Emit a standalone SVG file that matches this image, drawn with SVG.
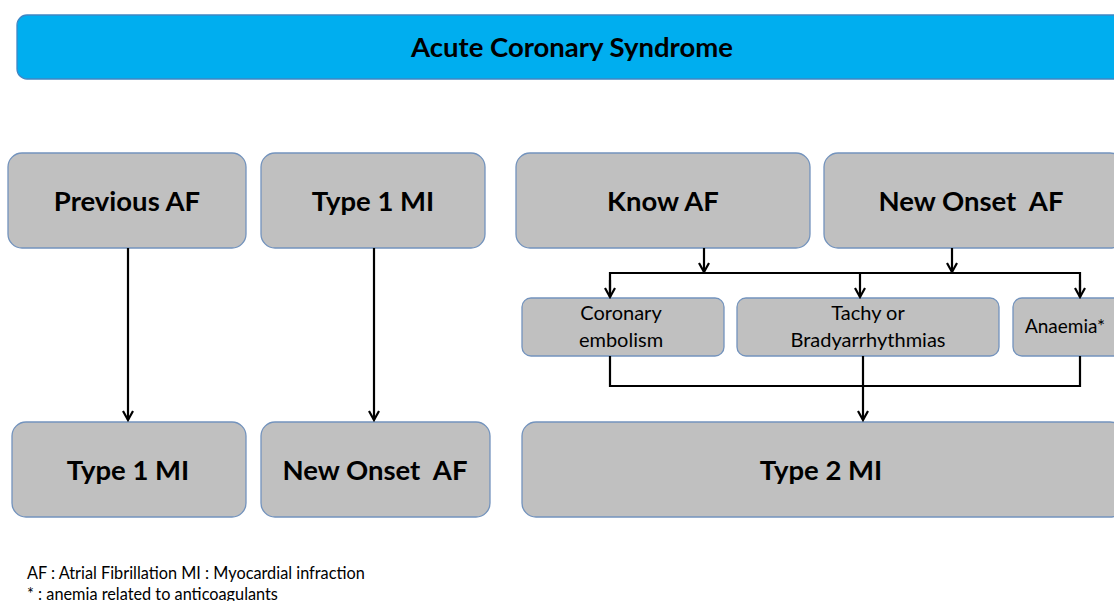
<svg xmlns="http://www.w3.org/2000/svg" width="1114" height="601" viewBox="0 0 1114 601">
<defs>
<marker id="ah" markerWidth="12" markerHeight="12" refX="10" refY="6" orient="auto" markerUnits="userSpaceOnUse">
<path d="M1,1 L10,6 L1,11" fill="none" stroke="#000" stroke-width="2.2"/>
</marker>
<style>
.box{fill:#c0c0c0;stroke:#7393bd;stroke-width:1.3}
.hdr{fill:#00aeef;stroke:#3f86c4;stroke-width:1.3}
.big{font-family:Lato,"Open Sans","Liberation Sans",sans-serif;font-weight:bold;font-size:27.5px;fill:#000;text-anchor:middle;white-space:pre}
.sm{font-family:Lato,"Open Sans","Liberation Sans",sans-serif;font-size:20px;fill:#000;text-anchor:middle}
.ft{font-family:Lato,"Open Sans","Liberation Sans",sans-serif;font-size:16.3px;fill:#000}
.cn{fill:none;stroke:#000;stroke-width:2.2}
</style>
</defs>
<rect fill="#fff" width="1114" height="601"/>
<g id="header">
<rect class="hdr" x="17" y="15" width="1110" height="64" rx="10"/>
<text class="big" x="572" y="57">Acute Coronary Syndrome</text>
</g>
<g id="previous-af">
<rect class="box" x="8" y="153" width="238" height="95" rx="14"/>
<text class="big" x="127" y="211">Previous AF</text>
</g>
<g id="type1-top">
<rect class="box" x="261" y="153" width="224" height="95" rx="14"/>
<text class="big" x="373" y="211">Type 1 MI</text>
</g>
<g id="know-af">
<rect class="box" x="516" y="153" width="294" height="95" rx="14"/>
<text class="big" x="663" y="211">Know AF</text>
</g>
<g id="new-onset-top">
<rect class="box" x="824" y="153" width="300" height="95" rx="14"/>
<text class="big" x="971" y="211">New Onset  AF</text>
</g>
<g id="coronary">
<rect class="box" x="522" y="298" width="202" height="58" rx="9"/>
<text class="sm" x="621" y="320">Coronary</text>
<text class="sm" x="621" y="347">embolism</text>
</g>
<g id="tachy">
<rect class="box" x="737" y="298" width="262" height="58" rx="9"/>
<text class="sm" x="868" y="320">Tachy or</text>
<text class="sm" x="868" y="347">Bradyarrhythmias</text>
</g>
<g id="anaemia">
<rect class="box" x="1013" y="298" width="110" height="58" rx="9"/>
<text class="sm" x="1065" y="333" style="font-size:19px">Anaemia*</text>
</g>
<g id="type1-bottom">
<rect class="box" x="12" y="422" width="234" height="95" rx="14"/>
<text class="big" x="128" y="480">Type 1 MI</text>
</g>
<g id="new-onset-bottom">
<rect class="box" x="261" y="422" width="229" height="95" rx="14"/>
<text class="big" x="375" y="480">New Onset  AF</text>
</g>
<g id="type2">
<rect class="box" x="522" y="422" width="602" height="95" rx="14"/>
<text class="big" x="821" y="480">Type 2 MI</text>
</g>
<g id="connectors">
<line class="cn" x1="128" y1="248" x2="128" y2="420" marker-end="url(#ah)"/>
<line class="cn" x1="374" y1="248" x2="374" y2="420" marker-end="url(#ah)"/>
<line class="cn" x1="704" y1="248" x2="704" y2="272" marker-end="url(#ah)"/>
<line class="cn" x1="952" y1="248" x2="952" y2="272" marker-end="url(#ah)"/>
<polyline class="cn" points="610,297 610,273 1080,273 1080,297"/>
<line class="cn" x1="610" y1="280" x2="610" y2="297" marker-end="url(#ah)"/>
<line class="cn" x1="1080" y1="280" x2="1080" y2="297" marker-end="url(#ah)"/>
<line class="cn" x1="860" y1="273" x2="860" y2="297" marker-end="url(#ah)"/>
<polyline class="cn" points="610,356 610,386 1080,386 1080,356"/>
<line class="cn" x1="863" y1="356" x2="863" y2="386"/>
<line class="cn" x1="863" y1="386" x2="863" y2="420" marker-end="url(#ah)"/>
</g>
<g id="footer">
<text class="ft" x="27" y="579">AF : Atrial Fibrillation MI : Myocardial infraction</text>
<text class="ft" x="27" y="600">* : anemia related to anticoagulants</text>
</g>
</svg>
